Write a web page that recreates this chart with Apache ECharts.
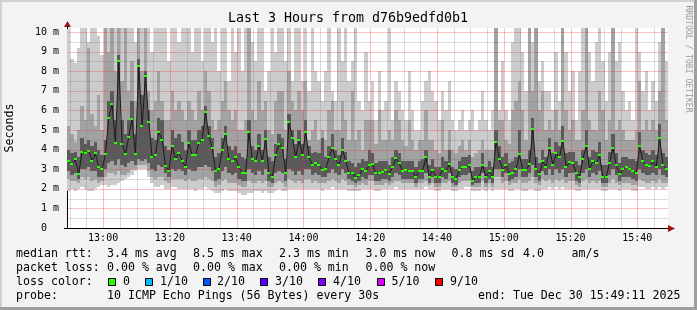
<!DOCTYPE html>
<html><head><meta charset="utf-8">
<script src="https://cdn.jsdelivr.net/npm/echarts@6/dist/echarts.min.js"></script>
<style>html,body{margin:0;padding:0;background:#f3f3f3}#c{width:697px;height:310px}</style>
</head><body><div id="c"></div>
<script>
// time in minutes since midnight; one column per minute, 12:49:11 .. 15:49:11
const START_MIN = 12 * 60 + 49 + 11 / 60;
const STEP_MIN = 1;

// median rtt per column (ms)
const medianMs = [
3.4,3.25,3.5,2.75,3.9,3.85,3.95,3.4,3.8,3.1,3.0,
3.75,5.6,6.3,4.35,8.5,4.3,3.75,4.65,5.55,3.75,8.25,5.2,7.75,5.4,3.6,3.7,4.9,4.5,3.15,2.9,4.2,3.5,3.85,3.4,3.1,
4.35,3.7,3.7,4.35,4.5,5.9,4.7,4.1,2.9,3.0,4.0,4.8,3.5,3.4,3.6,3.1,2.8,2.8,4.9,3.5,3.4,4.2,3.4,4.55,2.8,2.6,3.7,4.3,4.1,2.8,5.4,4.6,3.6,4.5,3.7,4.9,
3.6,3.2,3.3,3.2,2.95,3.0,3.6,4.1,3.5,3.2,4.0,3.4,2.8,2.8,2.55,2.7,3.0,2.9,3.2,3.25,2.8,2.8,2.85,2.95,2.75,3.1,3.55,3.3,2.9,2.95,2.9,2.9,2.6,2.9,2.9,3.6,
2.6,2.95,2.6,2.6,3.0,2.9,3.25,2.6,2.5,2.95,3.1,3.1,3.2,2.4,2.6,2.6,3.2,2.6,2.9,2.6,4.4,3.5,2.95,3.2,2.75,2.8,3.0,3.75,2.95,2.95,3.25,5.05,3.0,2.75,3.4,3.1,
4.1,3.2,3.8,3.6,4.45,3.1,3.35,3.3,2.8,2.6,3.5,4.2,3.0,3.4,3.3,3.7,2.6,2.6,3.3,4.1,3.2,2.75,3.0,3.1,3.0,2.9,2.8,4.2,3.4,3.2,3.15,3.4,3.1,4.6,3.2,3.0
];
// smoke envelope: lowest / highest ping (outer, light)
const minMs = [
1.9,2.0,1.9,2.0,2.1,2.0,1.9,1.9,2.0,2.1,2.2,
2.2,2.1,2.2,2.2,2.3,2.4,2.5,2.6,2.7,2.9,3.0,3.0,3.0,2.6,2.3,2.1,2.1,2.2,2.0,2.0,2.1,2.1,2.0,2.0,2.0,
2.0,2.0,1.9,2.0,2.0,2.1,2.0,1.9,1.8,1.8,1.9,2.0,1.9,1.9,1.9,1.8,1.7,1.7,1.8,1.8,1.9,1.9,1.8,1.9,1.8,1.8,1.9,2.0,1.9,1.9,2.0,2.0,2.0,2.0,2.0,2.0,
2.0,2.0,2.0,2.0,1.9,2.0,2.0,2.1,2.0,2.0,2.0,2.0,1.9,1.9,1.9,1.9,2.0,2.0,2.0,2.0,1.9,1.9,2.0,2.0,2.0,2.0,2.1,2.0,2.0,2.0,2.0,2.0,2.0,2.0,2.0,2.1,
2.0,2.0,1.9,1.9,2.0,2.0,2.0,1.9,1.9,2.0,2.0,2.1,2.1,1.9,1.9,1.9,2.0,1.9,2.0,1.9,2.0,2.0,2.0,2.0,1.9,1.9,2.0,2.0,1.9,1.9,2.0,2.0,1.9,1.9,2.0,2.0,
2.1,2.0,2.1,2.0,2.1,2.0,2.0,2.0,1.9,1.9,2.0,2.0,2.0,2.0,2.0,2.0,1.9,1.9,2.0,2.0,2.0,1.9,2.0,2.0,2.0,1.9,1.9,2.1,2.1,2.0,2.0,2.1,2.0,2.1,2.0,2.1
];
const maxMs = [
10.5,8.6,8.4,9.2,10.5,10.5,9.5,10.5,10.5,9.8,8.8,
10.5,10.5,10.5,10.5,10.5,10.5,10.5,10.5,10.5,9.5,10.5,10.5,10.5,10.5,9.0,10.5,10.5,10.5,10.5,8.5,10.5,10.5,9.5,10.5,10.5,
10.5,9.0,10.5,10.5,8.5,10.5,10.5,9.5,10.5,8.0,10.5,10.5,7.5,10.5,9.0,10.5,8.0,10.5,10.5,9.5,8.5,10.5,10.5,7.0,8.0,10.5,9.0,10.5,10.5,8.5,10.5,7.5,10.5,10.5,7.5,10.5,
7.0,10.5,8.0,7.5,6.5,8.0,10.5,7.0,6.5,10.5,8.5,10.5,7.5,8.5,10.5,6.5,6.0,9.0,6.5,7.5,5.5,8.0,6.0,6.5,10.5,5.5,7.5,7.0,6.0,5.5,8.0,6.0,5.0,5.0,6.5,7.5,
8.0,7.0,6.5,5.5,7.0,6.0,7.5,5.5,5.0,5.5,6.0,5.0,5.5,6.0,5.0,5.5,7.0,5.5,5.0,6.0,10.5,6.0,8.5,6.0,5.5,9.5,10.5,10.5,9.0,7.0,10.5,9.5,10.5,7.5,8.5,7.0,
7.0,6.0,9.0,6.5,10.5,9.0,7.0,8.0,5.5,8.0,10.5,10.5,9.0,7.5,9.5,10.5,8.5,6.5,9.0,10.5,8.5,9.5,7.0,6.0,6.5,5.5,10.5,9.0,7.0,8.0,6.0,7.5,6.5,9.5,10.5,8.5
];
// second pair of pings (medium smoke)
const loMs = [
2.5,2.4,2.4,2.3,2.6,2.5,2.6,2.4,2.5,2.3,2.4,
2.6,2.8,2.8,2.7,2.9,2.7,2.7,2.8,3.0,3.0,3.2,3.2,3.2,2.9,2.6,2.5,2.6,2.6,2.4,2.3,2.5,2.5,2.5,2.5,2.4,
2.5,2.4,2.4,2.5,2.5,2.6,2.5,2.4,2.1,2.2,2.4,2.5,2.3,2.3,2.3,2.2,2.1,2.1,2.4,2.3,2.3,2.4,2.3,2.4,2.1,2.1,2.3,2.4,2.3,2.1,2.5,2.4,2.3,2.4,2.3,2.5,
2.5,2.3,2.4,2.3,2.3,2.3,2.4,2.5,2.4,2.3,2.5,2.4,2.2,2.2,2.1,2.2,2.3,2.2,2.4,2.4,2.2,2.2,2.2,2.3,2.2,2.3,2.4,2.4,2.3,2.3,2.3,2.3,2.1,2.3,2.3,2.4,
2.2,2.3,2.1,2.1,2.3,2.3,2.4,2.1,2.1,2.3,2.4,2.4,2.4,2.1,2.1,2.1,2.4,2.1,2.3,2.1,2.6,2.6,2.3,2.4,2.2,2.3,2.3,2.5,2.3,2.3,2.4,2.6,2.3,2.2,2.5,2.4,
2.5,2.3,2.5,2.4,2.5,2.3,2.4,2.4,2.2,2.1,2.4,2.5,2.3,2.4,2.3,2.4,2.1,2.1,2.3,2.5,2.3,2.2,2.3,2.3,2.3,2.2,2.2,2.5,2.4,2.3,2.3,2.4,2.3,2.5,2.3,2.3
];
const hiMs = [
5.2,4.8,4.4,5.0,6.2,5.5,9.2,5.8,5.2,6.8,5.0,
10.5,9.0,10.5,8.0,10.5,7.5,10.5,7.0,8.5,6.5,10.5,8.0,10.5,7.0,6.0,6.5,8.0,6.5,5.5,5.5,7.0,6.0,6.5,6.0,5.5,
6.5,6.0,5.5,7.0,6.0,8.0,7.0,5.5,5.0,5.5,6.5,7.5,6.0,5.5,6.0,5.0,5.0,5.5,10.5,6.0,5.5,7.5,6.0,6.5,5.0,4.8,6.5,7.0,7.0,5.0,8.0,6.5,6.0,7.0,6.0,7.5,
4.5,5.0,5.5,4.5,5.0,4.5,6.0,6.5,5.0,5.0,6.5,5.5,4.5,7.0,4.5,5.0,4.0,5.5,5.5,5.5,4.3,6.0,4.5,4.5,5.0,4.5,6.0,5.5,4.5,4.2,5.5,4.5,4.0,4.5,4.5,6.0,
4.5,4.5,4.0,3.8,5.5,4.0,5.0,4.0,3.8,4.2,4.5,4.0,4.5,3.6,3.8,4.0,4.5,4.0,4.0,4.0,10.5,5.5,5.5,4.5,4.3,6.0,6.5,7.5,6.0,4.5,10.5,7.0,10.5,6.0,7.0,5.0,
5.5,5.0,6.0,5.0,10.5,6.0,5.0,5.5,4.5,4.5,6.0,10.5,5.5,5.0,5.0,7.0,6.0,4.5,5.5,10.5,5.0,5.5,5.0,4.5,4.5,4.5,5.0,7.5,5.0,5.5,5.0,5.5,5.0,7.0,10.5,5.5
];
// inner pings (dark smoke)
const dklMs = [
2.9,2.7,2.8,2.5,3.0,3.0,3.1,2.9,2.9,2.6,2.6,
3.0,3.3,3.4,3.2,3.5,3.2,3.1,3.3,3.4,3.2,3.5,3.4,3.5,3.3,3.0,2.9,3.2,3.1,2.8,2.6,3.0,2.9,3.0,2.9,2.7,
3.0,2.9,2.9,3.1,3.1,3.2,3.1,2.9,2.4,2.5,2.9,3.1,2.8,2.7,2.8,2.5,2.4,2.4,3.0,2.8,2.7,2.9,2.7,3.0,2.4,2.3,2.8,2.9,2.8,2.4,3.0,2.9,2.7,2.9,2.7,3.0,
3.0,2.7,2.8,2.7,2.6,2.6,2.8,3.0,2.8,2.7,3.0,2.8,2.5,2.4,2.3,2.4,2.6,2.5,2.7,2.7,2.4,2.4,2.5,2.5,2.4,2.6,2.8,2.7,2.5,2.5,2.5,2.5,2.3,2.5,2.5,2.8,
2.3,2.6,2.3,2.3,2.6,2.5,2.8,2.3,2.2,2.6,2.7,2.7,2.8,2.2,2.3,2.3,2.8,2.3,2.5,2.3,3.0,3.0,2.6,2.8,2.4,2.5,2.6,3.0,2.6,2.6,2.8,3.2,2.6,2.4,2.9,2.7,
3.0,2.7,3.0,2.8,3.0,2.6,2.8,2.8,2.4,2.3,2.8,3.0,2.6,2.8,2.7,2.9,2.3,2.3,2.7,3.0,2.7,2.4,2.6,2.6,2.6,2.5,2.4,3.0,2.8,2.7,2.7,2.8,2.7,3.0,2.7,2.6
];
const dkMs = [
4.0,3.8,3.9,3.6,4.6,4.3,4.5,4.2,4.4,4.0,3.7,
4.5,6.5,7.0,5.5,8.8,5.5,4.8,5.5,6.5,4.8,8.6,6.8,8.0,6.0,4.6,4.5,5.6,5.5,4.2,4.0,5.0,4.6,4.8,4.4,4.0,
5.0,4.5,4.5,5.0,5.2,6.2,5.2,4.6,3.6,3.8,4.6,5.2,4.2,4.0,4.2,3.8,3.6,3.5,5.5,4.2,4.0,4.8,4.0,5.0,3.6,3.4,4.3,4.8,4.6,3.5,5.8,5.0,4.3,5.0,4.3,5.5,
4.2,3.8,3.9,3.8,4.6,3.6,4.2,4.8,4.0,3.7,4.6,3.9,3.4,3.3,3.1,3.3,3.5,3.4,4.0,3.8,3.3,3.4,3.4,3.4,3.2,3.6,4.0,3.8,3.4,3.4,3.4,3.4,3.1,3.4,3.5,4.0,
3.2,3.5,3.1,3.1,3.6,3.4,4.0,3.1,3.0,3.4,3.6,3.6,3.7,2.9,3.1,3.1,3.8,3.1,3.4,3.1,5.0,4.2,3.6,3.8,3.3,3.4,3.6,5.0,3.5,3.5,4.0,5.6,3.6,3.3,4.0,3.6,
4.6,3.8,4.4,4.2,5.2,3.8,3.9,3.9,3.4,3.2,4.0,5.0,3.6,4.0,3.9,4.4,3.2,3.2,3.9,4.8,3.8,3.3,3.6,3.6,3.5,3.5,3.4,4.9,4.0,3.8,3.7,4.0,3.7,5.3,3.8,3.6
];

const xMajorTicks = [780, 800, 820, 840, 860, 880, 900, 920, 940];
const xTickLabels = ['13:00','13:20','13:40','14:00','14:20','14:40','15:00','15:20','15:40'];
const xMinorTicks = [770,775,785,790,795,805,810,815,825,830,835,845,850,855,865,870,875,885,890,895,905,910,915,925,930,935,945];
const yMajorTicks = [1,2,3,4,5,6,7,8,9,10];
const yMinorTicks = [0.5,1.5,2.5,3.5,4.5,5.5,6.5,7.5,8.5,9.5];
const yLabelValues = [0,1,2,3,4,5,6,7,8,9,10];
const yTickLabels = ['0  ','1 m','2 m','3 m','4 m','5 m','6 m','7 m','8 m','9 m','10 m'];

const MONO = '"DejaVu Sans Mono", monospace';
const colIdx = medianMs.map((v, i) => [START_MIN + i * STEP_MIN, i]);

function colX(api, t) {
  return [Math.round(api.coord([t, 0])[0]), Math.round(api.coord([t + STEP_MIN, 0])[0])];
}
function smokeItem(params, api) {
  const t = api.value(0), i = api.value(1);
  const [xa, xb] = colX(api, t);
  const bands = [[minMs, maxMs, '#cccccc'], [loMs, hiMs, '#a2a2a2'], [dklMs, dkMs, '#5a5a5a']];
  return {
    type: 'group',
    children: bands.map(([lo, hi, c]) => {
      const y0 = Math.round(api.coord([t, lo[i]])[1]);
      const y1 = Math.round(api.coord([t, hi[i]])[1]);
      return { type: 'rect', shape: { x: xa, y: y1, width: xb - xa, height: y0 - y1 }, style: { fill: c } };
    })
  };
}
function greenItem(params, api) {
  const t = api.value(0), i = api.value(1);
  const [xa, xb] = colX(api, t);
  const y = Math.round(api.coord([t, medianMs[i]])[1]);
  return { type: 'rect', shape: { x: xa, y: y - 1, width: 3, height: 2 }, style: { fill: '#26ff00' } };
}
const MINOR = 'rgba(110,110,110,0.24)', MAJOR = 'rgba(235,50,50,0.3)';
function gridItem(params, api) {
  const cs = params.coordSys;
  const children = [];
  const addV = (v, c) => {
    const x = Math.round(api.coord([v, 0])[0]);
    children.push({ type: 'rect', shape: { x: x, y: cs.y, width: 1, height: cs.height }, style: { fill: c } });
  };
  const addH = (v, c) => {
    const y = Math.round(api.coord([START_MIN, v])[1]);
    children.push({ type: 'rect', shape: { x: cs.x + 1, y: y, width: cs.width - 1, height: 1 }, style: { fill: c } });
  };
  xMinorTicks.forEach(v => addV(v, MINOR));
  yMinorTicks.forEach(v => addH(v, MINOR));
  xMajorTicks.forEach(v => addV(v, MAJOR));
  yMajorTicks.forEach(v => addH(v, MAJOR));
  return { type: 'group', children };
}

const legendTexts = [
  [16, 254, 'median rtt:'], [107, 254, '3.4 ms avg'], [193, 254, '8.5 ms max'], [279, 254, '2.3 ms min'],
  [365.5, 254, '3.0 ms now'], [451.5, 254, '0.8 ms sd'], [523, 254, '4.0'], [571.5, 254, 'am/s'],
  [16, 268, 'packet loss:'], [107, 268, '0.00 % avg'], [193, 268, '0.00 % max'], [279, 268, '0.00 % min'], [365.5, 268, '0.00 % now'],
  [16, 282, 'loss color:'], [123, 282, '0'], [160, 282, '1/10'], [217, 282, '2/10'], [275, 282, '3/10'],
  [333, 282, '4/10'], [391.5, 282, '5/10'], [450, 282, '9/10'],
  [16, 296, 'probe:'], [107, 296, '10 ICMP Echo Pings (56 Bytes) every 30s'], [478, 296, 'end: Tue Dec 30 15:49:11 2025']
];
const lossBoxes = [[108.5, '#26ff00'], [145.5, '#00b8ff'], [203.5, '#0059ff'], [260.5, '#5e00ff'], [318.5, '#7e00ff'], [377.5, '#dd00ff'], [435.5, '#ff0000']];

const graphics = [
  { type: 'rect', shape: { x: 0, y: 0, width: 697, height: 2 }, style: { fill: '#d2d2d2' }, z: 100 },
  { type: 'rect', shape: { x: 0, y: 0, width: 2, height: 310 }, style: { fill: '#d2d2d2' }, z: 100 },
  { type: 'rect', shape: { x: 694, y: 0, width: 3, height: 310 }, style: { fill: '#9e9e9e' }, z: 100 },
  { type: 'rect', shape: { x: 0, y: 307, width: 697, height: 3 }, style: { fill: '#9e9e9e' }, z: 100 },
  { type: 'text', x: 348, y: 19, style: { text: 'Last 3 Hours from d76b9edfd0b1', font: '13.3px ' + MONO, fill: '#000', textAlign: 'center', textVerticalAlign: 'middle' } },
  { type: 'text', x: 10, y: 128, rotation: Math.PI / 2, style: { text: 'Seconds', font: '11.6px ' + MONO, fill: '#000', textAlign: 'center', textVerticalAlign: 'middle' } },
  { type: 'text', x: 688.5, y: 59, rotation: -Math.PI / 2, style: { text: 'RRDTOOL / TOBI OETIKER', font: '8.1px ' + MONO, fill: '#9a9a9a', textAlign: 'center', textVerticalAlign: 'middle' } },
  { type: 'polygon', shape: { points: [[67.5, 21], [64, 27], [71, 27]] }, style: { fill: '#a01010' }, z: 50 },
  { type: 'line', shape: { x1: 67.5, y1: 26, x2: 67.5, y2: 29 }, style: { stroke: '#000', lineWidth: 1 }, z: 50 },
  { type: 'line', shape: { x1: 64, y1: 228.5, x2: 669, y2: 228.5 }, style: { stroke: '#000', lineWidth: 1 }, z: 50 },
  { type: 'polygon', shape: { points: [[675, 228.5], [668, 225], [668, 232]] }, style: { fill: '#a01010' }, z: 50 }
];
legendTexts.forEach(([x, y, t]) => graphics.push({ type: 'text', x: x, y: y, style: { text: t, font: '11.6px ' + MONO, fill: '#000', textAlign: 'left', textVerticalAlign: 'middle' } }));
lossBoxes.forEach(([x, c]) => graphics.push({ type: 'rect', shape: { x: x, y: 278.5, width: 7, height: 7 }, style: { fill: c, stroke: '#000', lineWidth: 1 } }));

const chart = echarts.init(document.getElementById('c'), null, { renderer: 'canvas' });
chart.setOption({
  animation: false,
  backgroundColor: '#f3f3f3',
  grid: { left: 67, right: 29, top: 28, bottom: 82, show: true, backgroundColor: '#ffffff', borderWidth: 0 },
  xAxis: {
    type: 'value', min: START_MIN, max: START_MIN + 180 * STEP_MIN,
    axisLine: { show: true, lineStyle: { color: '#000', width: 1 } },
    axisTick: { show: false },
    splitLine: { show: false },
    axisLabel: {
      customValues: xMajorTicks, margin: 5, color: '#000', fontFamily: MONO, fontSize: 10,
      formatter: v => xTickLabels[xMajorTicks.indexOf(Math.round(v))] || ''
    }
  },
  yAxis: {
    type: 'value', min: 0, max: 10.2, interval: 1,
    axisLine: { show: true, lineStyle: { color: '#000', width: 1 } },
    axisTick: { show: false },
    splitLine: { show: false },
    axisLabel: {
      customValues: yLabelValues, margin: 8, color: '#000', fontFamily: MONO, fontSize: 10,
      formatter: v => yTickLabels[yLabelValues.indexOf(Math.round(v))] || ''
    }
  },
  graphic: graphics,
  series: [
    { type: 'custom', name: 'smoke', data: colIdx, renderItem: smokeItem, clip: true, z: 2, encode: { x: 0, y: 1 }, silent: true },
    { type: 'custom', name: 'grid', data: [[START_MIN, 0]], renderItem: gridItem, z: 3, encode: { x: 0, y: 1 }, silent: true },
    { type: 'line', name: 'median', data: medianMs.map((v, i) => [START_MIN + (i + 0.5) * STEP_MIN, v]), symbol: 'none', lineStyle: { color: '#1a1a1a', width: 1 }, z: 4, silent: true, clip: true },
    { type: 'custom', name: 'medianLoss', data: colIdx, renderItem: greenItem, z: 5, encode: { x: 0, y: 1 }, silent: true }
  ]
});
</script></body></html>
